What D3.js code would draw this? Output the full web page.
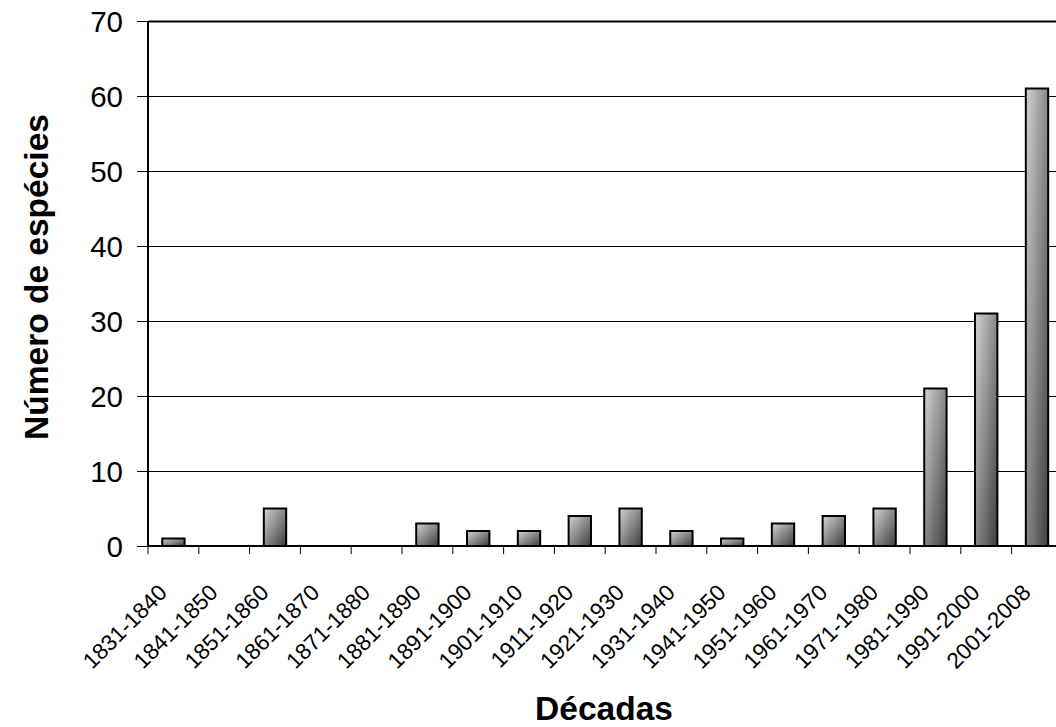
<!DOCTYPE html>
<html><head><meta charset="utf-8">
<script src="https://cdn.jsdelivr.net/npm/d3@7"></script>
<style>body{margin:0;background:#fff}svg{display:block}</style>
</head><body>
<svg id="c" width="1056" height="727"></svg>
<script>
const categories = ["1831-1840","1841-1850","1851-1860","1861-1870","1871-1880","1881-1890","1891-1900","1901-1910","1911-1920","1921-1930","1931-1940","1941-1950","1951-1960","1961-1970","1971-1980","1981-1990","1991-2000","2001-2008"];
const values = [1,0,5,0,0,3,2,2,4,5,2,1,3,4,5,21,31,61];
const yTicks = [0,10,20,30,40,50,60,70];
const yTitle = "Número de espécies";
const xTitle = "Décadas";

const svg = d3.select("#c");
const m = {left:148, top:21, bottom:546};
const plotW = 18*50.8;
const x = d3.scaleBand().domain(categories).range([m.left, m.left+plotW]).paddingInner(0.56).paddingOuter(0.28);
const xb = d3.scaleLinear().domain([0,categories.length]).range([m.left, m.left+plotW]);
const y = d3.scaleLinear().domain([0,70]).range([m.bottom, m.top]);
const font = "'Liberation Sans', Arial, sans-serif";

const defs = svg.append("defs");
const g = defs.append("linearGradient").attr("id","barGrad").attr("x1",0).attr("y1",0).attr("x2",1).attr("y2",1);
g.append("stop").attr("offset","0%").attr("stop-color","#d2d2d2");
g.append("stop").attr("offset","100%").attr("stop-color","#3e3e3e");

// gridlines
svg.append("g").selectAll("line").data(yTicks.filter(d=>d>0)).join("line")
  .attr("x1",m.left).attr("x2",1056).attr("y1",d=>y(d)+0.5).attr("y2",d=>y(d)+0.5)
  .attr("stroke","#000").attr("stroke-width",d=>d===70?1.8:1);

// y axis ticks and labels
const ya = svg.append("g");
ya.selectAll("line").data(yTicks).join("line")
  .attr("x1",m.left-11).attr("x2",m.left).attr("y1",d=>y(d)+0.5).attr("y2",d=>y(d)+0.5)
  .attr("stroke","#000").attr("stroke-width",1);
ya.selectAll("text").data(yTicks).join("text")
  .attr("x",m.left-25).attr("y",d=>y(d)).attr("dy","0.36em")
  .attr("text-anchor","end").attr("font-family",font).attr("font-size",29.5).text(d=>d);

// bars
svg.append("g").selectAll("rect").data(values).join("rect")
  .attr("x",(d,i)=>x(categories[i])).attr("width",x.bandwidth())
  .attr("y",d=>y(d)).attr("height",d=>Math.max(0,y(0)-y(d)))
  .attr("fill","url(#barGrad)").attr("stroke","#000").attr("stroke-width",2)
  .style("display",d=>d>0?null:"none");

// axes lines
svg.append("line").attr("x1",m.left).attr("x2",m.left).attr("y1",m.top).attr("y2",m.bottom+1)
  .attr("stroke","#000").attr("stroke-width",2);
svg.append("line").attr("x1",m.left-1).attr("x2",1056).attr("y1",m.bottom).attr("y2",m.bottom)
  .attr("stroke","#000").attr("stroke-width",2.2);

// x ticks at boundaries
svg.append("g").selectAll("line").data(d3.range(categories.length+1)).join("line")
  .attr("x1",d=>xb(d)).attr("x2",d=>xb(d)).attr("y1",m.bottom).attr("y2",m.bottom+8)
  .attr("stroke","#000").attr("stroke-width",1);

// x labels
svg.append("g").selectAll("text").data(categories).join("text")
  .attr("transform",d=>`translate(${x(d)+x.bandwidth()/2-5},${m.bottom+48}) rotate(-45)`)
  .attr("text-anchor","end").attr("font-family",font).attr("font-size",22.5).text(d=>d);

// titles
svg.append("text").attr("transform","translate(48,277) rotate(-90)")
  .attr("text-anchor","middle").attr("font-family",font).attr("font-weight","bold")
  .attr("font-size",33.5).text(yTitle);
svg.append("text").attr("x",604).attr("y",720)
  .attr("text-anchor","middle").attr("font-family",font).attr("font-weight","bold")
  .attr("font-size",33.5).text(xTitle);
</script>
</body></html>
